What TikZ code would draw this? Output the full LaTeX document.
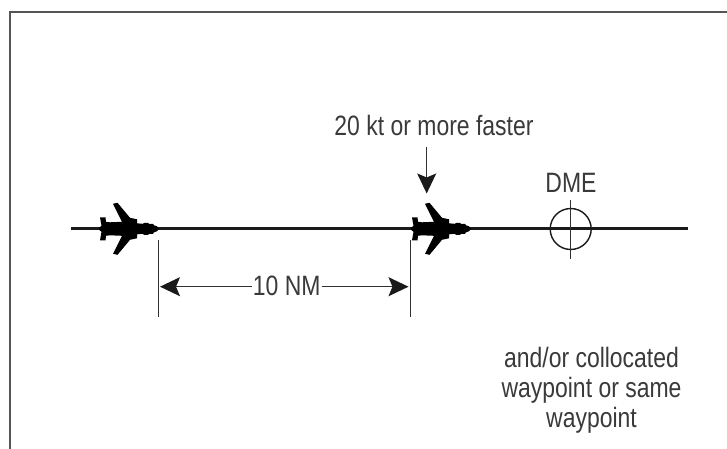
\documentclass[tikz,border=0pt]{standalone}
\usepackage{fontspec}
\setmainfont{Liberation Sans}
\usetikzlibrary{arrows.meta}
\definecolor{ink}{HTML}{1A1A1A}
\definecolor{txt}{HTML}{3A3A3A}
\definecolor{framec}{HTML}{555555}
\newcommand{\cond}[1]{\scalebox{0.82}[1]{#1}}
\tikzset{
  framel/.style={draw=framec,line width=2pt},
  mainline/.style={draw=ink,line width=3pt},
  thinl/.style={draw=ink!90!white,line width=1.2pt},
  dimarrow/.style={thinl,-{Stealth[length=20pt,width=19pt,inset=4pt,color=ink,fill=ink]}},
  label/.style={text=txt,inner sep=0pt,font=\fontsize{28}{30}\selectfont,align=center},
  pics/jet/.style={code={
    \fill[black] (46,0) -- (44,-2.5) -- (41,-3.5) -- (40,-5) -- (36,-5) -- (35,-6) -- (31,-6) -- (30,-5) -- (24,-5.5) -- (24,-9.5) -- (17,-11)
      -- (4.5,-26) -- (0,-25) -- (9,-7) -- (-3,-6.5) -- (-7,-7) -- (-7.5,-11.5) -- (-13,-11.5) -- (-11.5,-3) -- (-14,-1)
      -- (-14,1) -- (-11.5,3) -- (-13,11.5) -- (-7.5,11.5) -- (-7,7) -- (-3,6.5) -- (9,7) -- (0,25) -- (4.5,26) -- (17,11)
      -- (24,9.5) -- (24,5.5) -- (30,5) -- (31,6) -- (35,6) -- (36,5) -- (40,5) -- (41,3.5) -- (44,2.5) -- cycle;
  }}
}
\begin{document}
\begin{tikzpicture}[x=1pt,y=-1pt]
\useasboundingbox (0,0) rectangle (727,449);
\fill[white] (0,0) rectangle (727,449);
% frame
\coordinate (fbl) at (9.5,449);
\coordinate (ftl) at (9.5,12);
\coordinate (ftr) at (727,12);
\draw[framel] (fbl) -- (ftl) -- (ftr);
% track
\coordinate (trackstart) at (71,228.8);
\coordinate (trackend) at (688,228.8);
\draw[mainline] (trackstart) -- (trackend);
% aircraft
\pic at (113,228.8) {jet};
\pic at (425,228.8) {jet};
% DME
\node[circle,draw=ink,line width=1.4pt,minimum size=41pt,inner sep=0pt] (dme) at (570.7,229) {};
\coordinate (dmetop) at (570.7,200);
\coordinate (dmebot) at (570.7,259);
\draw[thinl,line width=1.4pt] (dmetop) -- (dmebot);
\node[label] (dmelabel) at (571,183) {\cond{DME}};
% dimension
\coordinate (dimlt) at (158.5,240);
\coordinate (dimlb) at (158.5,317);
\coordinate (dimrt) at (410.5,240);
\coordinate (dimrb) at (410.5,317);
\draw[thinl] (dimlt) -- (dimlb);
\draw[thinl] (dimrt) -- (dimrb);
\node[label] (dist) at (286.7,286) {\cond{10 NM}};
\coordinate (dimla) at (160,286.7);
\coordinate (dimra) at (408.5,286.7);
\draw[dimarrow] (dist.west) ++(-1,0.7) -- (dimla);
\draw[dimarrow] (dist.east) ++(1,0.7) -- (dimra);
% speed
\node[label] (speed) at (434,125.5) {\cond{20 kt or more faster}};
\coordinate (speedtop) at (426.7,147);
\coordinate (speedtip) at (426.7,193.5);
\draw[dimarrow] (speedtop) -- (speedtip);
% note
\node[label] (note) at (591.5,390) {\cond{and/or collocated}\\[0pt]\cond{waypoint or same}\\[0pt]\cond{waypoint}};
\end{tikzpicture}
\end{document}
